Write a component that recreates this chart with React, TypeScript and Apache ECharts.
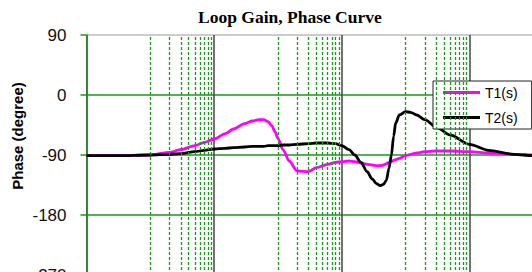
import React, { useEffect, useRef } from "react";
import * as echarts from "echarts";

// Frequency samples (Hz, log axis, base 100)
const freq = [
  1, 3, 10, 20, 30, 50, 70, 100, 150, 200, 300, 400, 500, 600, 700, 800, 900,
  1000, 1200, 1500, 2000, 3000, 4000, 6000, 8000, 10000, 13000, 16000, 20000,
  25000, 30000, 35000, 40000, 45000, 50000, 55000, 60000, 65000, 70000, 80000,
  100000, 120000, 150000, 200000, 300000, 500000, 1e6, 2e6, 5e6, 1e7, 2e7,
];

const t1Phase = [
  -91, -91, -90, -86, -82, -76, -71, -66, -58, -51, -43, -39, -37, -37, -40,
  -46, -55, -65, -82, -99, -114, -115, -109, -104, -101, -100, -99, -100, -102,
  -104, -105, -106, -106, -105, -103, -101, -100, -98, -97, -95, -91, -89, -87,
  -85, -84, -84, -85, -87, -89, -90, -91,
];

const t2Phase = [
  -91, -91, -90, -89, -88, -85, -83, -81, -80, -79, -78, -77, -77, -77, -76,
  -76, -76, -76, -75, -75, -74, -73, -72, -72, -73, -76, -82, -90, -101, -115,
  -126, -133, -136, -134, -128, -110, -90, -62, -42, -30, -25, -26, -30, -37,
  -48, -60, -74, -83, -89, -91, -91,
];

const seriesNames = ["T1(s)", "T2(s)"];
const yTicks = { min: -270, max: 90, interval: 90 };
const xRange = { min: 1, max: 1e8 };
const minorMultipliers = [10, 20, 30, 40, 50, 60, 70, 80, 90];
const decadeStarts = [1, 100, 1e4, 1e6];

const GREEN = "#179a17";

export default function App() {
  const ref = useRef<HTMLDivElement>(null);

  useEffect(() => {
    if (!ref.current) return;
    const chart = echarts.init(ref.current, null, { renderer: "svg" });
    const minorLines: { xAxis: number }[] = [];
    decadeStarts.forEach((d) =>
      minorMultipliers.forEach((m) => minorLines.push({ xAxis: d * m }))
    );
    chart.setOption({
      animation: false,
      backgroundColor: "#fff",
      title: {
        text: "Loop Gain, Phase Curve",
        left: 198,
        top: 8,
        padding: 0,
        textStyle: {
          fontFamily: "Liberation Serif",
          fontWeight: "bold",
          fontSize: 17.5,
          color: "#000",
        },
      },
      legend: {
        data: seriesNames,
        orient: "vertical",
        left: 433,
        top: 81,
        padding: [4.5, 14, 4.5, 10],
        itemWidth: 37,
        itemHeight: 14,
        itemGap: 11,
        icon: "path://M0,0h37v3h-37z",
        symbolKeepAspect: true,
        backgroundColor: "#fff",
        borderColor: "#222",
        borderWidth: 1,
        textStyle: {
          fontFamily: "Liberation Sans",
          fontSize: 14,
          color: "#000",
        },
      },
      graphic: [
        {
          type: "text",
          x: 17,
          y: 136,
          rotation: Math.PI / 2,
          style: {
            text: "Phase (degree)",
            fontFamily: "Liberation Sans",
            fontWeight: "bold",
            fontSize: 15,
            fill: "#000",
            textAlign: "center",
            textVerticalAlign: "middle",
          },
        },
      ],
      grid: {
        left: 86.5,
        top: 35,
        width: 510.5,
        height: 240,
        show: true,
        borderColor: "#999",
        borderWidth: 1,
      },
      xAxis: {
        type: "log",
        logBase: 100,
        min: xRange.min,
        max: xRange.max,
        axisLine: { show: false },
        axisTick: { show: false },
        axisLabel: { show: false },
        splitLine: {
          show: true,
          lineStyle: { color: "#444", width: 1.5 },
        },
      },
      yAxis: {
        type: "value",
        min: yTicks.min,
        max: yTicks.max,
        interval: yTicks.interval,
        axisLine: { show: true, lineStyle: { color: GREEN, width: 1.5 } },
        axisTick: {
          show: true,
          length: 6,
          lineStyle: { color: GREEN, width: 1.5 },
        },
        axisLabel: {
          margin: 20,
          fontFamily: "Liberation Sans",
          fontSize: 17,
          color: "#111",
        },
        splitLine: {
          show: true,
          showMaxLine: false,
          lineStyle: { color: GREEN, width: 1.5 },
        },
      },
      series: [
        {
          name: "minor",
          type: "line",
          data: [],
          z: 1,
          silent: true,
          markLine: {
            silent: true,
            symbol: "none",
            label: { show: false },
            lineStyle: { color: GREEN, type: [3, 2], width: 1.3 },
            data: minorLines,
          },
        },
        {
          name: seriesNames[0],
          type: "line",
          data: freq.map((f, i) => [f, t1Phase[i]]),
          showSymbol: false,
          symbol: "none",
          smooth: 0.3,
          smoothMonotone: "x",
          z: 3,
          color: "#ff00ff",
          lineStyle: { color: "#ff00ff", width: 2.8 },
        },
        {
          name: seriesNames[1],
          type: "line",
          data: freq.map((f, i) => [f, t2Phase[i]]),
          showSymbol: false,
          symbol: "none",
          smooth: 0.3,
          smoothMonotone: "x",
          z: 3,
          color: "#000",
          lineStyle: { color: "#000", width: 2.8 },
        },
      ],
    });
    return () => chart.dispose();
  }, []);

  return (
    <div
      style={{
        position: "fixed",
        left: 0,
        top: 0,
        width: 532,
        height: 272,
        overflow: "hidden",
        background: "#fff",
      }}
    >
      <div ref={ref} style={{ width: 620, height: 300 }} />
    </div>
  );
}
